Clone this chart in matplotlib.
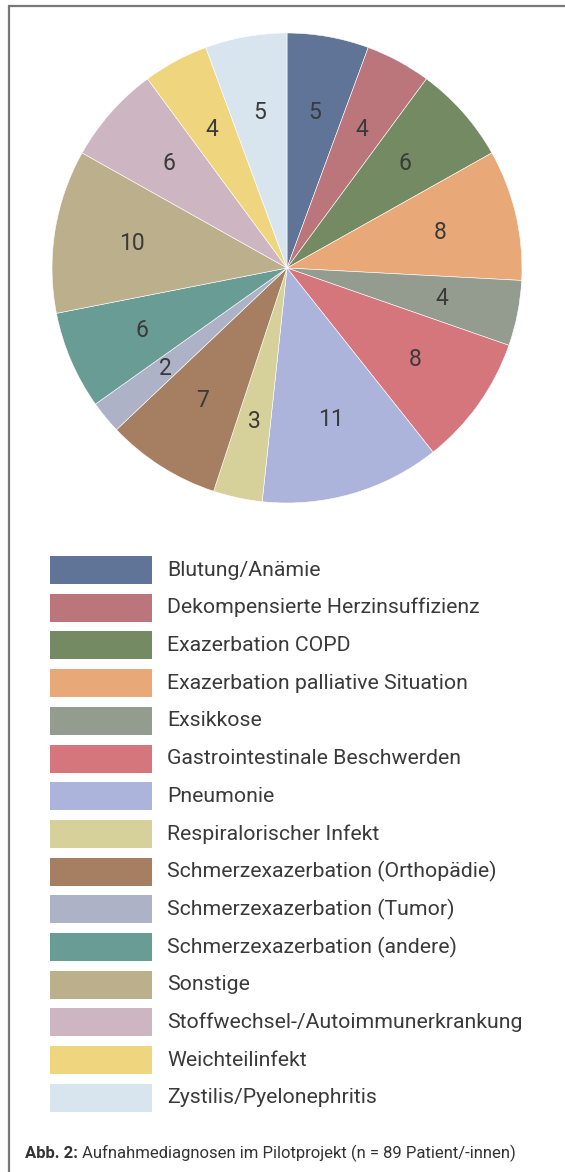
import matplotlib.pyplot as plt

plt.rcParams['font.family'] = ['Liberation Sans Narrow', 'Roboto', 'DejaVu Sans']

# data
labels = ['Blutung/Anämie', 'Dekompensierte Herzinsuffizienz', 'Exazerbation COPD',
          'Exazerbation palliative Situation', 'Exsikkose', 'Gastrointestinale Beschwerden',
          'Pneumonie', 'Respiralorischer Infekt', 'Schmerzexazerbation (Orthopädie)',
          'Schmerzexazerbation (Tumor)', 'Schmerzexazerbation (andere)', 'Sonstige',
          'Stoffwechsel-/Autoimmunerkrankung', 'Weichteilinfekt', 'Zystilis/Pyelonephritis']
counts = [5, 4, 6, 8, 4, 8, 11, 3, 7, 2, 6, 10, 6, 4, 5]
colors = ['#5f7497', '#bb767c', '#738a63', '#e9a877', '#939c8e', '#d4767c', '#adb4dc',
          '#d6d09b', '#a67f62', '#aeb2c6', '#6a9c96', '#bcaf8b', '#cdb5c2', '#efd67e', '#d9e5ee']
caption_bold = 'Abb. 2:'
caption = ' Aufnahmediagnosen im Pilotprojekt (n = 89 Patient/-innen)'

W, H = 565, 1172
txt = '#3a3a3a'
fig = plt.figure(figsize=(W / 100, H / 100), dpi=100)

# pixel-coordinate background axes for frame, legend and caption
bg = fig.add_axes([0, 0, 1, 1])
bg.set_xlim(0, W)
bg.set_ylim(H, 0)
bg.axis('off')
bg.plot([9, 9, W], [H, 6, 6], color='#777777', lw=1.6, solid_joinstyle='miter')

# pie
ax = fig.add_axes([52 / W, 1 - 503 / H, 470 / W, 470 / H])
wedges, texts = ax.pie(counts, colors=colors, startangle=90, counterclock=False,
                       labels=[str(c) for c in counts], labeldistance=0.67,
                       wedgeprops=dict(edgecolor='white', linewidth=0.4),
                       textprops=dict(color=txt, fontsize=16.5))
for t in texts:
    t.set_ha('center')
    t.set_va('center')
ax.set_xlim(-1, 1)
ax.set_ylim(-1, 1)
ax.set_aspect('equal')

# legend
rows = [570 + i * 37.7 for i in range(len(labels))]
bg.barh(rows, [102] * len(labels), left=50, height=28, color=colors)
for y, lab in zip(rows, labels):
    bg.text(167, y, lab, fontsize=15.3, color=txt, va='center', ha='left')

# caption
t1 = bg.text(25, 1158, caption_bold, fontsize=12, fontweight='bold', color='#333333',
             va='baseline', ha='left')
fig.canvas.draw()
bb = t1.get_window_extent()
bg.text(25 + bb.width, 1158, caption, fontsize=12, color='#333333', va='baseline', ha='left')

fig.savefig('out.png', dpi=100)
